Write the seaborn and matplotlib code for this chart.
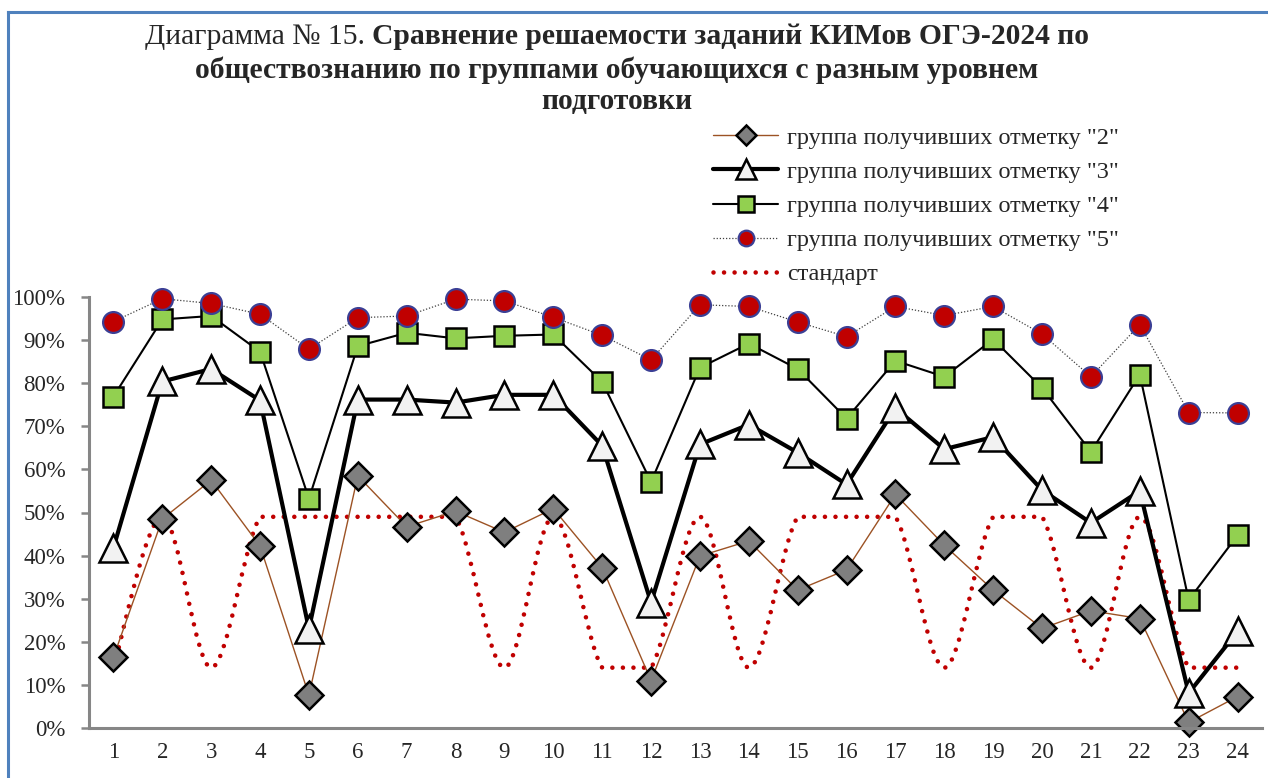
import matplotlib
matplotlib.use('Agg')
import matplotlib.pyplot as plt
import seaborn as sns
from matplotlib.lines import Line2D
from matplotlib.path import Path
from matplotlib.patches import PathPatch
from matplotlib.ticker import PercentFormatter, FixedLocator

tasks = list(range(1, 25))
group2 = [16.4, 48.5, 57.5, 42.2, 7.6, 58.5, 46.7, 50.3, 45.4, 50.9, 37.2, 11.0,
          39.9, 43.4, 32.0, 36.7, 54.2, 42.4, 32.0, 23.1, 27.2, 25.4, 1.3, 7.3]
group3 = [41.8, 80.4, 83.3, 76.0, 23.0, 76.2, 76.2, 75.5, 77.3, 77.3, 65.5, 29.1,
          65.8, 70.4, 63.9, 56.5, 74.2, 64.7, 67.5, 55.2, 47.6, 55.0, 8.1, 22.4]
group4 = [76.9, 94.8, 95.6, 87.3, 53.2, 88.6, 91.7, 90.4, 91.0, 91.3, 80.3, 57.1,
          83.6, 89.2, 83.3, 71.8, 85.2, 81.5, 90.2, 78.9, 64.1, 82.0, 29.7, 44.7]
group5 = [94.3, 99.6, 98.5, 96.0, 87.9, 95.2, 95.6, 99.5, 99.1, 95.3, 91.1, 85.4,
          98.2, 97.8, 94.2, 90.8, 97.8, 95.7, 97.8, 91.4, 81.5, 93.6, 73.2, 73.1]
standard = [14, 49, 14, 49, 49, 49, 49, 49, 14, 49, 14, 14,
            49, 14, 49, 49, 49, 14, 49, 49, 14, 49, 14, 14]

labels = ['группа получивших отметку "2"', 'группа получивших отметку "3"',
          'группа получивших отметку "4"', 'группа получивших отметку "5"', 'стандарт']

sns.set_style('white')
plt.rcParams['font.family'] = ['Liberation Serif', 'DejaVu Serif']

fig = plt.figure(figsize=(12.68, 7.78), dpi=100)
ax = fig.add_axes([89 / 1268, 1 - 728 / 778, 1173 / 1268, 431 / 778])

s2 = dict(color='#9C5224', lw=1.0, marker='D', markersize=14, markerfacecolor='#7F7F7F',
          markeredgecolor='black', markeredgewidth=1.8)
s3 = dict(color='black', lw=3.0, marker='^', markersize=20, markerfacecolor='#F2F2F2',
          markeredgecolor='black', markeredgewidth=1.8)
s4 = dict(color='black', lw=1.5, marker='s', markersize=15, markerfacecolor='#92D050',
          markeredgecolor='black', markeredgewidth=1.8)
s5 = dict(color='#404040', lw=0.9, ls=(0, (1, 1.5)), marker='o', markersize=15,
          markerfacecolor='#C00000', markeredgecolor='#3B3F95', markeredgewidth=1.6)
sstd = dict(color='#C00000', lw=3.3, ls=(0, (0.001, 2.3)), dash_capstyle='round')

for vals, st in [(group2, s2), (group3, s3), (group4, s4), (group5, s5)]:
    sns.lineplot(x=tasks, y=vals, ax=ax, clip_on=False, **st)


# smoothed line for "стандарт" (Excel-like bezier through the points)
def smooth_path(xs, ys):
    n = len(xs)
    verts = [(xs[0], ys[0])]
    codes = [Path.MOVETO]
    for i in range(n - 1):
        a = max(i - 1, 0)
        b = min(i + 2, n - 1)
        lo, hi = min(ys[i], ys[i + 1]), max(ys[i], ys[i + 1])
        c1 = (xs[i] + (xs[i + 1] - xs[a]) / 6, ys[i] + (ys[i + 1] - ys[a]) / 6)
        c2 = (xs[i + 1] - (xs[b] - xs[i]) / 6, ys[i + 1] - (ys[b] - ys[i]) / 6)
        c1 = (c1[0], min(max(c1[1], lo), hi))
        c2 = (c2[0], min(max(c2[1], lo), hi))
        verts += [c1, c2, (xs[i + 1], ys[i + 1])]
        codes += [Path.CURVE4] * 3
    return Path(verts, codes)


ax.add_patch(PathPatch(smooth_path(tasks, standard), fill=False, edgecolor=sstd['color'],
                       lw=sstd['lw'], ls=sstd['ls'], capstyle='round', clip_on=False))

ax.set_xlim(0.5, 24.5)
ax.set_ylim(0, 100)
ax.yaxis.set_major_locator(FixedLocator(range(0, 101, 10)))
ax.yaxis.set_major_formatter(PercentFormatter(100, decimals=0))
ax.set_xticks(tasks)
ax.set_xticks([t + 0.5 for t in range(0, 25)], minor=True)
ax.tick_params(axis='x', which='major', length=0, labelsize=16.5, pad=10)
ax.tick_params(axis='x', which='minor', direction='in', length=6, width=1.8, color='#868686')
ax.tick_params(axis='y', which='major', direction='out', length=6, width=1.8, color='#868686',
               labelsize=16.5, pad=11, left=True)
for sp in ['top', 'right']:
    ax.spines[sp].set_visible(False)
for sp in ['left', 'bottom']:
    ax.spines[sp].set_color('#868686')
    ax.spines[sp].set_linewidth(2.2)
ax.set_xlabel('')
ax.set_ylabel('')

# legend
handles = [Line2D([], [], **s2), Line2D([], [], **s3), Line2D([], [], **s4),
           Line2D([], [], **s5), Line2D([], [], **sstd)]
for h in handles[:4]:
    h.set_markersize(h.get_markersize() * 0.75)
fig.legend(handles, labels, loc='upper left', bbox_to_anchor=(703 / 1268, 1 - 117 / 778),
           frameon=False, fontsize=17.5, handlelength=2.7, handletextpad=0.35,
           labelspacing=0.5, borderaxespad=0)

# title: regular prefix + bold text
cx = 617 / 1268
fs = 21.3
fig.canvas.draw()
r = fig.canvas.get_renderer()
t1a = fig.text(0, 1 - 37 / 778, 'Диаграмма № 15. ', fontsize=fs, va='center', ha='left')
t1b = fig.text(0, 1 - 37 / 778, 'Сравнение решаемости заданий КИМов ОГЭ-2024 по',
               fontsize=fs, fontweight='bold', va='center', ha='left')
wa = t1a.get_window_extent(r).width / fig.bbox.width
wb = t1b.get_window_extent(r).width / fig.bbox.width
t1a.set_x(cx - (wa + wb) / 2)
t1b.set_x(cx - (wa + wb) / 2 + wa)
fig.text(cx, 1 - 70 / 778, 'обществознанию по группами обучающихся с разным уровнем',
         fontsize=fs, fontweight='bold', va='center', ha='center')
fig.text(cx, 1 - 102 / 778, 'подготовки', fontsize=fs, fontweight='bold', va='center', ha='center')

# chart area border (blue, left and top)
fig.add_artist(Line2D([8 / 1268, 8 / 1268], [0, 1 - 12 / 778], color='#4F81BD', lw=2.2,
                      transform=fig.transFigure, solid_capstyle='projecting'))
fig.add_artist(Line2D([8 / 1268, 1], [1 - 12 / 778, 1 - 12 / 778], color='#4F81BD', lw=2.2,
                      transform=fig.transFigure, solid_capstyle='projecting'))

fig.savefig('out.png', dpi=100)
